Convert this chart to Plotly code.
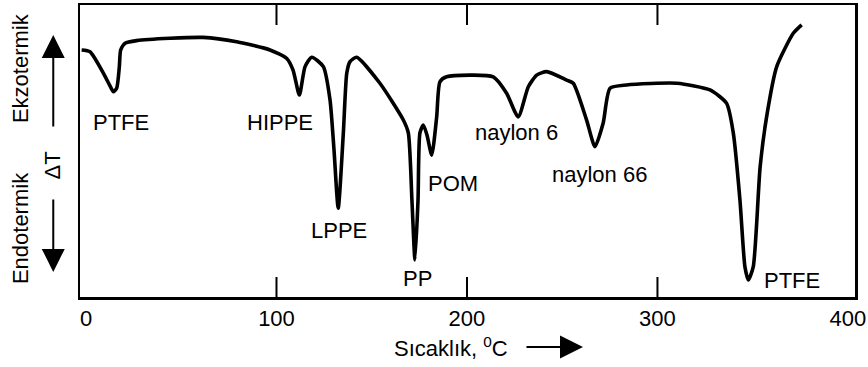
import plotly.graph_objects as go

# Temperature (°C) and DTA signal (arbitrary units, 0 = bottom of frame, 100 = top)
temperature = [-2.3, 2.1, 9.1, 12.6, 14.3, 16.1, 17.5, 18.2, 20.5, 26.6, 44.1, 61.4, 79.1,
               96.6, 105.4, 108.7, 112.0, 115.0, 118.5, 124.6, 128.1, 130.2, 132.4, 135.1,
               136.9, 138.6, 142.1, 154.3, 166.6, 169.2, 171.1, 172.7, 174.3, 175.3, 177.1,
               179.0, 181.5, 184.1, 185.8, 189.3, 213.8, 220.8, 226.9, 232.2, 236.6, 241.8,
               252.3, 255.8, 262.8, 267.2, 271.5, 275.1, 283.8, 310.1, 327.6, 336.3, 339.8,
               343.3, 345.9, 347.7, 350.3, 353.9, 357.3, 362.6, 371.3, 375.7]
delta_t = [84.6, 84.0, 76.7, 72.3, 70.3, 71.5, 78.9, 84.6, 86.9, 87.8, 88.6, 88.9, 87.4,
           84.6, 81.7, 77.7, 69.2, 78.9, 82.1, 78.9, 67.5, 50.3, 30.4, 56.2,
           76.7, 80.6, 82.1, 73.2, 60.6, 56.2, 33.2, 12.7, 33.2, 56.2, 58.9,
           55.5, 48.6, 61.7, 73.7, 75.4, 75.4, 69.8, 61.7, 72.0, 76.0, 77.2,
           74.3, 73.2, 60.6, 51.5, 59.6, 71.5, 72.6, 73.2, 70.9, 66.3, 56.2,
           33.2, 10.4, 5.8, 10.4, 44.6, 61.7, 78.9, 90.3, 93.2]

# Peak labels
peak_labels = ["PTFE", "HIPPE", "LPPE", "PP", "POM", "naylon 6", "naylon 66", "PTFE"]
peak_label_x = [18.4, 102.1, 132.8, 173.8, 192.7, 226.2, 269.8, 370.6]
peak_label_y = [59.8, 59.9, 22.9, 6.5, 39.0, 56.5, 41.8, 5.8]

x_ticks = [0, 100, 200, 300, 400]
inner_ticks = [100, 200, 300]

FONT = "Liberation Sans, Arial, sans-serif"


def txt(x, y, text, ref="paper", angle=0, size=22):
    return dict(x=x, y=y, xref=("x" if ref == "data" else "paper"),
                yref=("y" if ref == "data" else "paper"), text=text, textangle=angle,
                showarrow=False, xanchor="center", yanchor="middle",
                font=dict(family=FONT, size=size, color="black"))


def arrow(x, y, ax, ay):
    return dict(x=x, y=y, xref="paper", yref="paper", ax=ax, ay=ay, axref="pixel",
                ayref="pixel", text="", showarrow=True, arrowhead=2, arrowsize=2.3,
                arrowwidth=2, arrowcolor="black", standoff=0, startstandoff=0)


fig = go.Figure()
fig.add_trace(go.Scatter(
    x=temperature, y=delta_t, mode="lines",
    line=dict(color="black", width=3.6, shape="spline", smoothing=0.6),
    hoverinfo="skip", showlegend=False))

annotations = [txt(xx, yy, t, ref="data") for t, xx, yy in zip(peak_labels, peak_label_x, peak_label_y)]

annotations += [
    txt(-0.0774, 0.784, "Ekzotermik", angle=-90),
    txt(-0.0774, 0.236, "Endotermik", angle=-90),
    txt(-0.0355, 0.452, "ΔT", angle=-90),
    arrow(-0.0345, 0.897, 0, 93),
    arrow(-0.0345, 0.086, 0, -74),
    txt(0.4787, -0.171, "Sıcaklık, <sup>0</sup>C"),
    arrow(0.649, -0.171, -58, 0),
]

shapes = []
for tv in inner_ticks:
    shapes.append(dict(type="line", xref="x", yref="paper", x0=tv, x1=tv, y0=0, y1=0.0685,
                       line=dict(color="black", width=2)))
    shapes.append(dict(type="line", xref="x", yref="paper", x0=tv, x1=tv, y0=1, y1=1 - 0.0685,
                       line=dict(color="black", width=2)))

fig.update_layout(
    width=868, height=367,
    margin=dict(l=80, r=13, t=5, b=70, autoexpand=False),
    paper_bgcolor="white", plot_bgcolor="white",
    annotations=annotations, shapes=shapes,
    xaxis=dict(range=[-3.15, 403.7], tickvals=x_ticks, ticks="", showgrid=False, zeroline=False,
               showline=True, mirror=True, linecolor="black", linewidth=2.5, automargin=False,
               tickfont=dict(family=FONT, size=22, color="black")),
    yaxis=dict(range=[0, 100], showticklabels=False, ticks="", showgrid=False, zeroline=False,
               showline=True, mirror=True, linecolor="black", linewidth=2.5, automargin=False),
)

fig.write_html("out.html", config={"displayModeBar": False, "staticPlot": True},
               post_script="document.body.style.margin='0';document.body.style.overflow='hidden';")
